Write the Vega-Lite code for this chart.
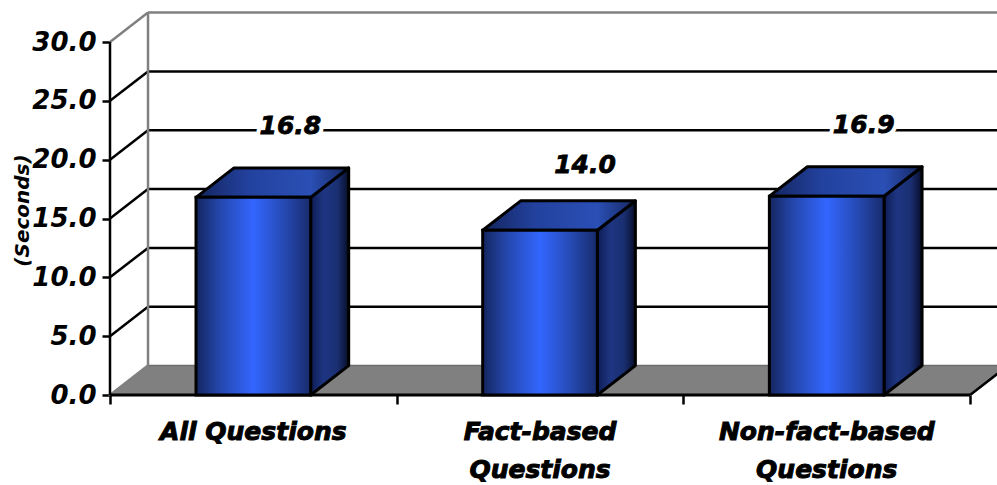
{
  "$schema": "https://vega.github.io/schema/vega-lite/v6.json",
  "autosize": "none",
  "padding": {"left": 110, "top": 12, "right": 0, "bottom": 90},
  "width": 887,
  "height": 383,
  "background": "white",
  "config": {"view": {"stroke": null}},
  "resolve": {"axis": {"x": "independent", "y": "independent"}},
  "datasets": {
    "bars": [
      {"label": "All Questions", "pos": 0.5, "seconds": 16.8},
      {"label": "Fact-based\nQuestions", "pos": 1.5, "seconds": 14.0},
      {"label": "Non-fact-based\nQuestions", "pos": 2.5, "seconds": 16.9}
    ],
    "grid": [
      {"level": 5, "wall": 7.5},
      {"level": 10, "wall": 12.5},
      {"level": 15, "wall": 17.5},
      {"level": 20, "wall": 22.5},
      {"level": 25, "wall": 27.5}
    ],
    "frame": [
      {"level": 0, "wall": 2.5},
      {"level": 30, "wall": 32.5}
    ],
    "floor": [
      {"cat": 0, "back": 0, "front": 0},
      {"cat": 0.1326, "back": 2.5, "front": 0},
      {"cat": 3, "back": 2.5, "front": 0},
      {"cat": 3.1326, "back": 2.5, "front": 2.5}
    ]
  },
  "layer": [
    {
      "data": {"name": "floor"},
      "mark": {"type": "area", "color": "#808080", "stroke": "#6e6e6e", "strokeWidth": 1.5},
      "encoding": {
        "x": {
          "field": "cat", "type": "quantitative",
          "scale": {"domain": [0, 3.094], "nice": false, "zero": false},
          "axis": {"values": [0, 1, 2, 3], "labels": false, "domain": false, "grid": false, "title": null, "tickSize": 9, "tickWidth": 2.5, "tickColor": "black"}
        },
        "y": {
          "field": "back", "type": "quantitative",
          "scale": {"domain": [0, 32.55], "nice": false, "zero": false},
          "axis": {
            "values": [0, 5, 10, 15, 20, 25, 30], "format": ".1f", "domain": false, "grid": false,
            "tickSize": 8, "tickWidth": 2.5, "tickColor": "black", "labelPadding": 6,
            "labelFont": "DejaVu Sans", "labelFontSize": 26, "labelFontWeight": "bold", "labelFontStyle": "italic", "labelColor": "black",
            "title": "(Seconds)", "titleFont": "DejaVu Sans", "titleFontSize": 20, "titleFontWeight": "bold", "titleFontStyle": "italic", "titleColor": "black",
            "titleAngle": 270, "titleX": -88, "titleY": 198, "titleAlign": "center", "titleBaseline": "middle"
          }
        },
        "y2": {"field": "front"}
      }
    },
    {
      "data": {"name": "grid"},
      "mark": {"type": "rule", "color": "black", "strokeWidth": 2.5},
      "encoding": {
        "x": {"datum": 0.1326, "type": "quantitative", "axis": null},
        "x2": {"datum": 3.094},
        "y": {"field": "wall", "type": "quantitative", "axis": null}
      }
    },
    {
      "data": {"name": "grid"},
      "mark": {"type": "rule", "color": "black", "strokeWidth": 2.5},
      "encoding": {
        "x": {"datum": 0, "type": "quantitative", "axis": null},
        "x2": {"datum": 0.1326},
        "y": {"field": "level", "type": "quantitative", "axis": null},
        "y2": {"field": "wall"}
      }
    },
    {
      "data": {"name": "frame"},
      "mark": {"type": "rule", "color": "#808080", "strokeWidth": 2.5},
      "encoding": {
        "x": {"datum": 0, "type": "quantitative", "axis": null},
        "x2": {"datum": 0.1326},
        "y": {"field": "level", "type": "quantitative", "axis": null},
        "y2": {"field": "wall"}
      }
    },
    {
      "data": {"values": [{"a": 2.5, "b": 32.5}]},
      "mark": {"type": "rule", "color": "#808080", "strokeWidth": 2.5},
      "encoding": {
        "x": {"datum": 0.1326, "type": "quantitative", "axis": null},
        "y": {"field": "a", "type": "quantitative", "axis": null},
        "y2": {"field": "b"}
      }
    },
    {
      "data": {"values": [{"b": 32.5}]},
      "mark": {"type": "rule", "color": "#808080", "strokeWidth": 2.5},
      "encoding": {
        "x": {"datum": 0.1326, "type": "quantitative", "axis": null},
        "x2": {"datum": 3.094},
        "y": {"field": "b", "type": "quantitative", "axis": null}
      }
    },
    {
      "data": {"values": [{"a": 0, "b": 30}]},
      "mark": {"type": "rule", "color": "black", "strokeWidth": 2.5},
      "encoding": {
        "x": {"datum": 0, "type": "quantitative", "axis": null},
        "y": {"field": "a", "type": "quantitative", "axis": null},
        "y2": {"field": "b"}
      }
    },
    {
      "data": {"values": [{"a": 0}]},
      "mark": {"type": "rule", "color": "black", "strokeWidth": 3},
      "encoding": {
        "x": {"datum": 0, "type": "quantitative", "axis": null},
        "x2": {"datum": 3},
        "y": {"field": "a", "type": "quantitative", "axis": null}
      }
    },
    {
      "data": {"values": [{"a": 0, "b": 2.5}]},
      "mark": {"type": "rule", "color": "black", "strokeWidth": 2.5},
      "encoding": {
        "x": {"datum": 3, "type": "quantitative", "axis": null},
        "x2": {"datum": 3.1326},
        "y": {"field": "a", "type": "quantitative", "axis": null},
        "y2": {"field": "b"}
      }
    },
    {
      "data": {"name": "bars"},
      "transform": [
        {"calculate": "datum.pos + 0.2", "as": "near"},
        {"calculate": "datum.pos + 0.3326", "as": "far"},
        {"fold": ["near", "far"], "as": ["edge", "xpos"]},
        {"calculate": "datum.edge === 'far' ? 2.5 : 0", "as": "lift"},
        {"calculate": "datum.seconds + datum.lift", "as": "upper"}
      ],
      "mark": {
        "type": "area", "stroke": "black", "strokeWidth": 3, "strokeJoin": "round",
        "color": {"gradient": "linear", "x1": 0, "y1": 0, "x2": 1, "y2": 0,
          "stops": [{"offset": 0, "color": "#0e1c55"}, {"offset": 0.35, "color": "#1e3682"}, {"offset": 0.7, "color": "#1a2f72"}, {"offset": 1, "color": "#080e2a"}]}
      },
      "encoding": {
        "x": {"field": "xpos", "type": "quantitative", "axis": null},
        "y": {"field": "upper", "type": "quantitative", "axis": null},
        "y2": {"field": "lift"},
        "detail": {"field": "label"}
      }
    },
    {
      "data": {"name": "bars"},
      "transform": [
        {"calculate": "datum.pos - 0.2", "as": "a"},
        {"calculate": "datum.pos - 0.0674", "as": "b"},
        {"calculate": "datum.pos + 0.2", "as": "c"},
        {"calculate": "datum.pos + 0.3326", "as": "d"},
        {"fold": ["a", "b", "c", "d"], "as": ["corner", "xpos"]},
        {"calculate": "datum.seconds + (datum.corner === 'a' ? 0 : 2.5)", "as": "upper"},
        {"calculate": "datum.seconds + (datum.corner === 'd' ? 2.5 : 0)", "as": "lower"}
      ],
      "mark": {
        "type": "area", "stroke": "black", "strokeWidth": 3, "strokeJoin": "round",
        "color": {"gradient": "linear", "x1": 0, "y1": 0, "x2": 1, "y2": 0,
          "stops": [{"offset": 0, "color": "#14255f"}, {"offset": 0.35, "color": "#23429f"}, {"offset": 0.75, "color": "#2a4fb5"}, {"offset": 0.95, "color": "#1a2f72"}, {"offset": 1, "color": "#0e1a4a"}]}
      },
      "encoding": {
        "x": {"field": "xpos", "type": "quantitative", "axis": null},
        "y": {"field": "upper", "type": "quantitative", "axis": null},
        "y2": {"field": "lower"},
        "detail": {"field": "label"}
      }
    },
    {
      "data": {"name": "bars"},
      "transform": [
        {"calculate": "datum.pos - 0.2", "as": "left"},
        {"calculate": "datum.pos + 0.2", "as": "right"}
      ],
      "mark": {
        "type": "rect", "stroke": "black", "strokeWidth": 3,
        "color": {"gradient": "linear", "x1": 0, "y1": 0, "x2": 1, "y2": 0,
          "stops": [{"offset": 0, "color": "#14255f"}, {"offset": 0.2, "color": "#2446aa"}, {"offset": 0.5, "color": "#3366ff"}, {"offset": 0.8, "color": "#2446aa"}, {"offset": 1, "color": "#172a6c"}]}
      },
      "encoding": {
        "x": {"field": "left", "type": "quantitative", "axis": null},
        "x2": {"field": "right"},
        "y": {"field": "seconds", "type": "quantitative", "axis": null},
        "y2": {"datum": 0}
      }
    },
    {
      "data": {"name": "bars"},
      "transform": [{"filter": "datum.seconds > 15"}],
      "mark": {"type": "text", "dx": 37, "dy": -71, "baseline": "middle", "font": "DejaVu Sans", "fontSize": 25, "fontWeight": "bold", "fontStyle": "italic", "color": "white", "stroke": "white", "strokeWidth": 9},
      "encoding": {
        "x": {"field": "pos", "type": "quantitative", "axis": null},
        "y": {"field": "seconds", "type": "quantitative", "axis": null},
        "text": {"field": "seconds", "type": "quantitative", "format": ".1f"}
      }
    },
    {
      "data": {"name": "bars"},
      "transform": [{"filter": "datum.seconds > 15"}],
      "mark": {"type": "text", "dx": 37, "dy": -71, "baseline": "middle", "font": "DejaVu Sans", "fontSize": 25, "fontWeight": "bold", "fontStyle": "italic", "color": "black", "stroke": "black", "strokeWidth": 0.8},
      "encoding": {
        "x": {"field": "pos", "type": "quantitative", "axis": null},
        "y": {"field": "seconds", "type": "quantitative", "axis": null},
        "text": {"field": "seconds", "type": "quantitative", "format": ".1f"}
      }
    },
    {
      "data": {"name": "bars"},
      "transform": [{"filter": "datum.seconds <= 15"}],
      "mark": {"type": "text", "dx": 45, "dy": -65, "baseline": "middle", "font": "DejaVu Sans", "fontSize": 25, "fontWeight": "bold", "fontStyle": "italic", "color": "black", "stroke": "black", "strokeWidth": 0.8},
      "encoding": {
        "x": {"field": "pos", "type": "quantitative", "axis": null},
        "y": {"field": "seconds", "type": "quantitative", "axis": null},
        "text": {"field": "seconds", "type": "quantitative", "format": ".1f"}
      }
    },
    {
      "data": {"name": "bars"},
      "mark": {"type": "text", "dy": 45, "baseline": "alphabetic", "lineBreak": "\n", "lineHeight": 38, "font": "DejaVu Sans", "fontSize": 25, "fontWeight": "bold", "fontStyle": "italic", "color": "black", "stroke": "black", "strokeWidth": 1},
      "encoding": {
        "x": {"field": "pos", "type": "quantitative", "axis": null},
        "y": {"datum": 0, "type": "quantitative", "axis": null},
        "text": {"field": "label"}
      }
    }
  ]
}
